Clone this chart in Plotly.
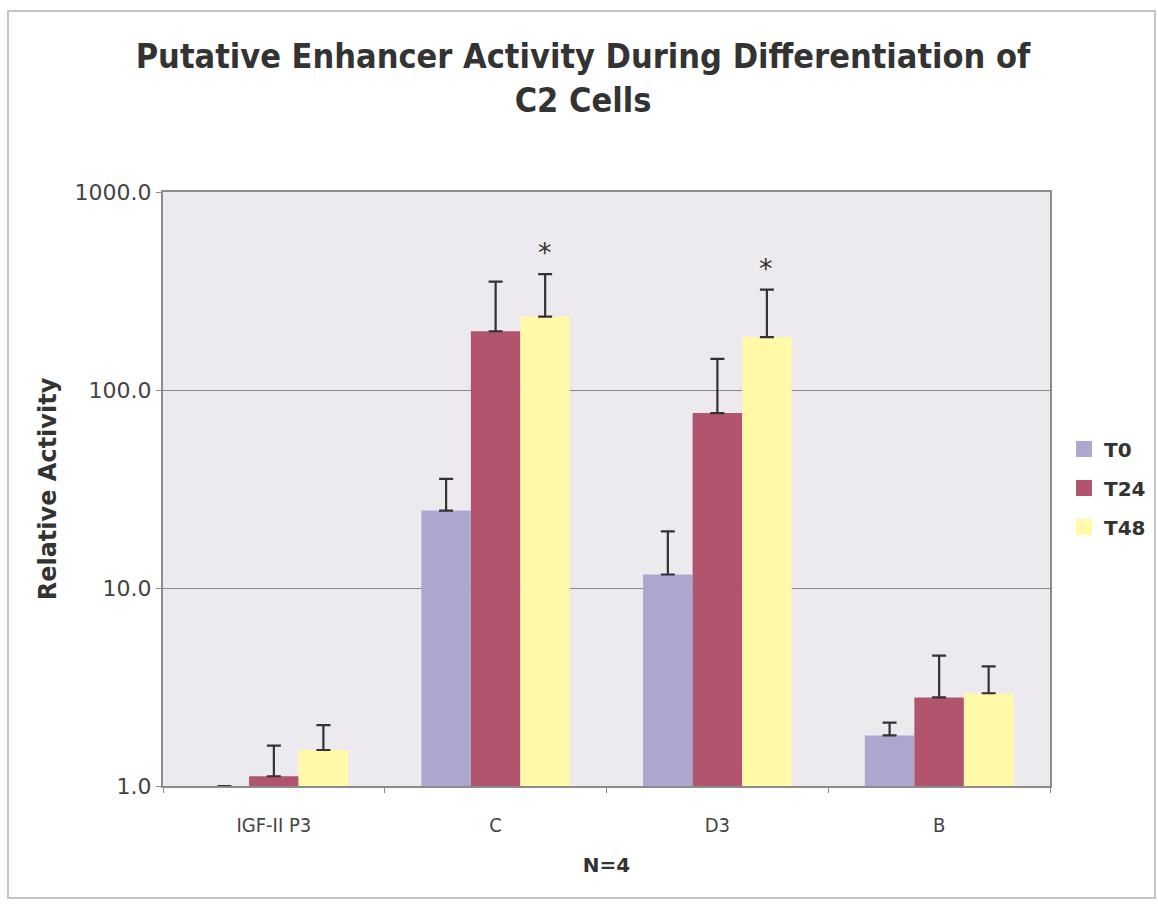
import plotly.graph_objects as go
import math

categories = ["IGF-II P3", "C", "D3", "B"]
series_names = ["T0", "T24", "T48"]
t0_values = [1.0, 24.6, 11.7, 1.8]
t0_errors = [0.0, 11.0, 7.6, 0.29]
t24_values = [1.12, 198.0, 76.5, 2.8]
t24_errors = [0.48, 155.0, 67.0, 1.75]
t48_values = [1.52, 235.0, 185.0, 2.94]
t48_errors = [0.51, 150.0, 136.0, 1.08]
significant_t48 = ["C", "D3"]
y_tick_values = [1, 10, 100, 1000]
colors = ["#ADA7CF", "#B1556F", "#FFF9A8"]

W, H = 1158, 904
L, R, T, B = 163, 1050, 192, 786

fig = go.Figure()
for name, vals, errs, col in zip(series_names,
                                 [t0_values, t24_values, t48_values],
                                 [t0_errors, t24_errors, t48_errors],
                                 colors):
    fig.add_trace(go.Bar(
        name=name, x=categories, y=vals, legendgroup=name, showlegend=False,
        marker=dict(color=col, line=dict(width=0)),
        error_y=dict(type="data", array=errs, arrayminus=[0]*len(errs),
                     symmetric=False, color="#333333", thickness=2.2, width=7),
    ))
# legend entries with larger square swatches
for name, col in zip(series_names, colors):
    fig.add_trace(go.Scatter(
        name=name, x=[None], y=[None], mode="markers", legendgroup=name,
        marker=dict(symbol="square", size=16, color=col, line=dict(width=0)),
        showlegend=True, hoverinfo="skip",
    ))

# asterisks above significant T48 bars
for cat in significant_t48:
    i = categories.index(cat)
    top = t48_values[i] + t48_errors[i]
    fig.add_annotation(x=cat, y=math.log10(top), xref="x", yref="y",
                       text="*", showarrow=False, xshift=49, yshift=4,
                       yanchor="bottom",
                       font=dict(family="DejaVu Sans", size=27, color="#333333"))

pw, ph = R - L, B - T
def px(x): return (x - L) / pw
def py(y): return (B - y) / ph
fig.add_shape(type="rect", xref="paper", yref="paper",
              x0=px(8), x1=px(1155), y0=py(898), y1=py(11),
              line=dict(color="#c4c4c4", width=2), layer="below")

fig.update_layout(
    width=W, height=H,
    margin=dict(l=L, r=W - R, t=T, b=H - B, autoexpand=False),
    paper_bgcolor="white", plot_bgcolor="#EDEAEF",
    barmode="group", bargap=0.33, bargroupgap=0,
    title=dict(text="Putative Enhancer Activity During Differentiation of<br>C2 Cells",
               x=583 / W, xref="container", xanchor="center", y=1 - 68 / H, yanchor="top",
               font=dict(family="DejaVu Sans Condensed", size=34, color="#333333", weight="bold")),
    legend=dict(x=px(1064), y=py(488), xanchor="left", yanchor="middle",
                font=dict(family="DejaVu Sans", size=20, color="#333333", weight="bold"),
                tracegroupgap=10, bgcolor="rgba(0,0,0,0)", traceorder="grouped",
                itemwidth=30),
    showlegend=True,
)
fig.update_xaxes(
    type="category", showgrid=False, showline=True, linecolor="#8c8c8c", linewidth=2,
    mirror=True, ticks="outside", tickson="boundaries", ticklen=5, tickcolor="#8c8c8c",
    ticklabelstandoff=20,
    tickfont=dict(family="DejaVu Sans Condensed", size=20, color="#444444"),
    title=dict(text="N=4", standoff=22,
               font=dict(family="DejaVu Sans", size=20, color="#333333", weight="bold")),
)
fig.update_yaxes(
    type="log", range=[0, 3], tickvals=y_tick_values, tickformat=".1f",
    showgrid=True, gridcolor="#8a8a8a", gridwidth=1,
    showline=True, linecolor="#8c8c8c", linewidth=2, mirror=True,
    ticks="outside", ticklen=5, tickcolor="#8c8c8c",
    tickfont=dict(family="DejaVu Sans", size=22, color="#444444"),
    title=dict(text="Relative Activity", standoff=11,
               font=dict(family="DejaVu Sans", size=24, color="#333333", weight="bold")),
)
fig.write_html("out.html")
